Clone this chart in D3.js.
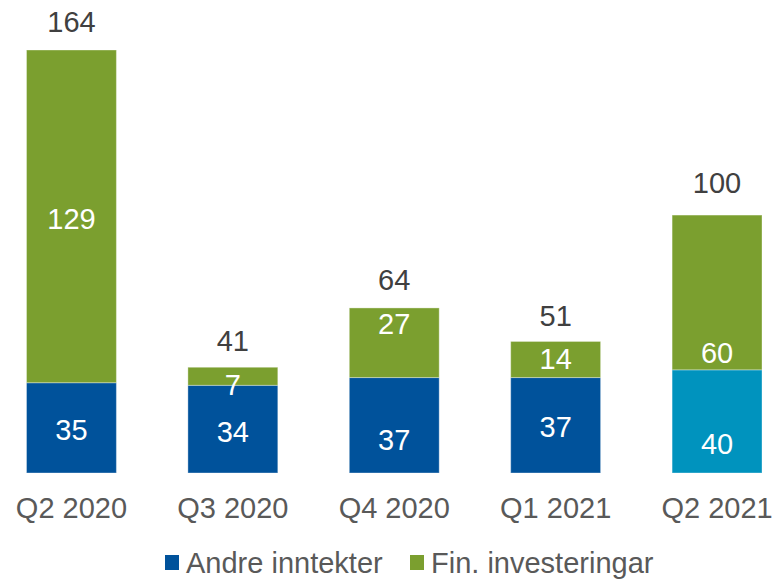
<!DOCTYPE html>
<html><head><meta charset="utf-8">
<script src="https://cdn.jsdelivr.net/npm/d3@7"></script>
<style>html,body{margin:0;padding:0;background:#fff;}svg{display:block;font-family:"Liberation Sans",Arial,sans-serif;}</style>
</head><body>
<script>
const categories = ["Q2 2020","Q3 2020","Q4 2020","Q1 2021","Q2 2021"];
const andreInntekter = [35,34,37,37,40];
const finInvesteringar = [129,7,27,14,60];
const totals = [164,41,64,51,100];
const seriesNames = ["Andre inntekter","Fin. investeringar"];
// label nudges in px (layout only)
const nudgeBlue = [2,3,15,2,22];
const nudgeGreen = [2,9,-19,-1,60];
const nudgeTotal = [0,2,0,2,-4];

const W=775,H=579,FS=29;
const colBlue="#00529B", colGreen="#7B9F2F", colCyan="#0093BE";
const svg=d3.select("body").append("svg").attr("width",W).attr("height",H);
const x=d3.scaleBand().domain(categories).range([-9.25,797.75]).paddingInner(0.443).paddingOuter(0.2215);
const y=d3.scaleLinear().domain([0,164]).range([473,50]);

const g=svg.append("g");
categories.forEach((c,i)=>{
  const b=andreInntekter[i], f=finInvesteringar[i];
  const bx=x(c), bw=x.bandwidth(), cx=bx+bw/2;
  g.append("rect").attr("x",bx).attr("width",bw).attr("y",y(b)).attr("height",y(0)-y(b))
    .attr("fill", i===categories.length-1?colCyan:colBlue).attr("stroke","rgba(255,255,255,0.35)").attr("stroke-width",1);
  g.append("rect").attr("x",bx).attr("width",bw).attr("y",y(b+f)).attr("height",y(b)-y(b+f))
    .attr("fill",colGreen).attr("stroke","rgba(255,255,255,0.35)").attr("stroke-width",1);
  g.append("text").attr("x",cx).attr("y",(y(0)+y(b))/2+nudgeBlue[i]).attr("dy","0.35em")
    .attr("text-anchor","middle").attr("fill","#fff").attr("font-size",FS).text(b);
  g.append("text").attr("x",cx).attr("y",(y(b)+y(b+f))/2+nudgeGreen[i]).attr("dy","0.35em")
    .attr("text-anchor","middle").attr("fill","#fff").attr("font-size",FS).text(f);
  g.append("text").attr("x",cx).attr("y",y(totals[i])-28+nudgeTotal[i]).attr("dy","0.35em")
    .attr("text-anchor","middle").attr("fill","#404040").attr("font-size",FS).text(totals[i]);
});

const xAxis=svg.append("g").attr("transform","translate(0,473)").call(d3.axisBottom(x).tickSize(0).tickPadding(24));
xAxis.select(".domain").remove();
xAxis.selectAll("text").attr("font-size",FS).attr("fill","#595959").attr("font-family","Liberation Sans, Arial, sans-serif");

const legend=svg.append("g");
const legItems=[{name:seriesNames[0],color:colBlue,x:165},{name:seriesNames[1],color:colGreen,x:410}];
legItems.forEach(d=>{
  legend.append("rect").attr("x",d.x).attr("y",555).attr("width",14).attr("height",15).attr("fill",d.color);
  legend.append("text").attr("x",d.x+21).attr("y",563).attr("dy","0.35em").attr("font-size",FS).attr("fill","#595959").text(d.name);
});
</script>
</body></html>
